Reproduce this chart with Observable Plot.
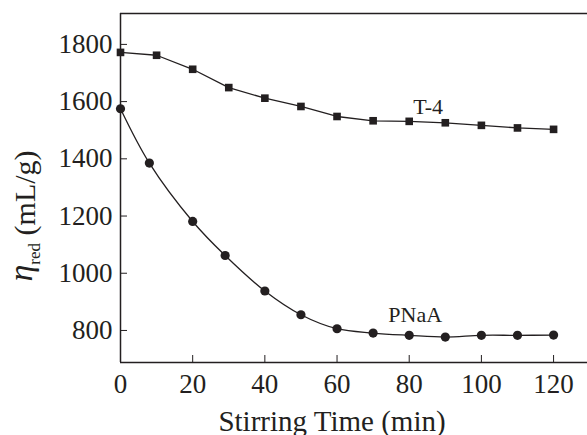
<!DOCTYPE html>
<html><head><meta charset="utf-8">
<script src="https://cdn.jsdelivr.net/npm/d3@7"></script>
<script src="https://cdn.jsdelivr.net/npm/@observablehq/plot@0.6"></script>
<style>body{margin:0;background:#fff} svg, svg text{font-family:"Liberation Serif", "Times New Roman", Times, serif !important;}</style>
</head><body><div id="chart"></div>
<script>
const timeT4 = [0,10,20,30,40,50,60,70,80,90,100,110,120];
const etaT4 = [1772,1762,1713,1649,1612,1583,1548,1533,1531,1526,1517,1508,1503];
const timePNaA = [0,8,20,29,40,50,60,70,80,90,100,110,120];
const etaPNaA = [1575,1385,1181,1062,938,855,806,791,783,777,783,783,784];
const xTicks = [0,20,40,60,80,100,120];
const yTicks = [800,1000,1200,1400,1600,1800];
const seriesNames = ["T-4","PNaA"];
const xLabel = "Stirring Time (min)";
const xDomain = [0,129.4];
const yDomain = [688,1908];

const t4 = timeT4.map((t,i)=>({t, v: etaT4[i]}));
const pn = timePNaA.map((t,i)=>({t, v: etaPNaA[i]}));
const ink = "#231f20";

const chart = Plot.plot({
  width:587, height:435,
  marginLeft:120, marginRight:0, marginTop:13, marginBottom:73,
  x:{domain:xDomain}, y:{domain:yDomain},
  style:{color:ink, background:"#fff", overflow:"visible"},
  marks:[
    Plot.ruleX([xDomain[0]], {stroke:ink, strokeWidth:1.5}),
    Plot.ruleY([yDomain[0]], {stroke:ink, strokeWidth:1.5}),
    Plot.ruleY([yDomain[1]], {stroke:ink, strokeWidth:1.5}),
    Plot.ruleY(yTicks, {stroke:ink, insetRight:460}),
    Plot.ruleX(xTicks, {stroke:ink, insetTop:342}),
    Plot.axisX(xTicks, {tickSize:0, tickPadding:11, fontSize:27, label:null, fill:ink, tickFormat:d3.format("d")}),
    Plot.axisY(yTicks, {tickSize:0, tickPadding:8, fontSize:27, label:null, fill:ink, tickFormat:d3.format("d")}),
    Plot.line(t4, {x:"t", y:"v", stroke:ink, strokeWidth:1.3}),
    Plot.dot(t4, {x:"t", y:"v", symbol:"square", r:4.3, fill:ink, stroke:null}),
    Plot.line(pn, {x:"t", y:"v", stroke:ink, strokeWidth:1.3, curve:"catmull-rom"}),
    Plot.dot(pn, {x:"t", y:"v", symbol:"circle", r:4.6, fill:ink, stroke:null}),
    Plot.text([t4[8]], {x:"t", y:"v", text:()=>seriesNames[0], dx:19, dy:-14, fontSize:22, fill:ink}),
    Plot.text([pn[8]], {x:"t", y:"v", text:()=>seriesNames[1], dx:6, dy:-20, fontSize:22, fill:ink}),
    Plot.text([xLabel], {frameAnchor:"bottom", text:d=>d, dx:-22, dy:68, fontSize:29, fill:ink})
  ]
});
document.getElementById("chart").appendChild(chart);
const svg = d3.select(chart);
const lab = svg.append("text")
  .attr("transform","translate(35,216) rotate(-90)")
  .attr("text-anchor","middle")
  .attr("fill", ink)
  .style("font-size","30px");
lab.append("tspan").attr("font-style","italic").style("font-size","34px").attr("dy","-3").text("η");
lab.append("tspan").style("font-size","17px").attr("dy","8").text("red");
lab.append("tspan").attr("dy","-5").text(" (mL/g)");
</script>
</body></html>
